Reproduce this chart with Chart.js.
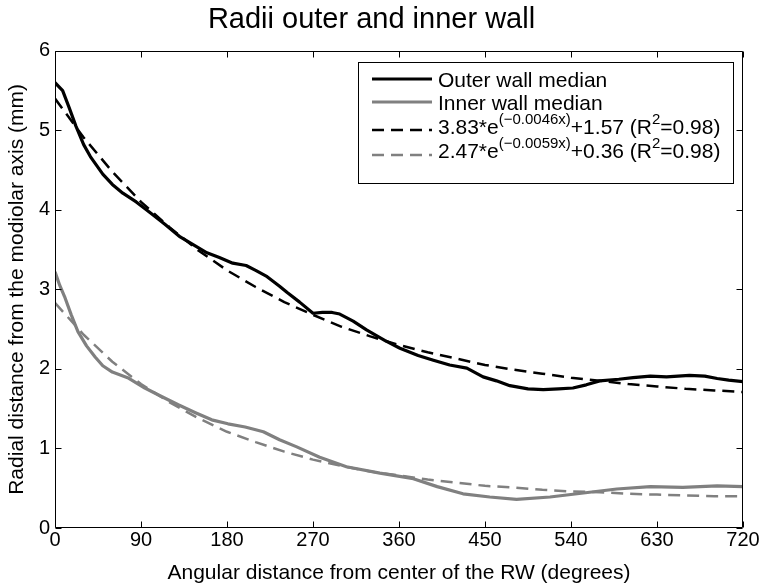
<!DOCTYPE html>
<html><head><meta charset="utf-8">
<script src="https://cdn.jsdelivr.net/npm/chart.js@4/dist/chart.umd.min.js"></script>
<style>html,body{margin:0;padding:0;background:#fff}#wrap{width:764px;height:587px}</style>
</head><body><div id="wrap"><canvas id="c" width="764" height="587"></canvas></div>
<script>
const titleText = 'Radii outer and inner wall';
const xAxisLabel = 'Angular distance from center of the RW (degrees)';
const yAxisLabel = 'Radial distance from the modiolar axis (mm)';
const xTicks = [0, 90, 180, 270, 360, 450, 540, 630, 720];
const yTicks = [0, 1, 2, 3, 4, 5, 6];

const outerX = [0,8,15,22,30,37,50,60,71,85,99,115,131,145,159,172,186,200,210,222,235,243,256,270,280,290,298,312,326,345,361,380,396,413,431,448,462,476,495,511,527,542,556,570,590,605,623,640,664,680,693,705,720];
const outerY = [5.60,5.50,5.28,5.05,4.82,4.67,4.45,4.32,4.21,4.10,3.97,3.82,3.66,3.56,3.46,3.40,3.33,3.30,3.24,3.16,3.04,2.96,2.84,2.70,2.71,2.71,2.69,2.60,2.49,2.36,2.26,2.17,2.11,2.05,2.01,1.90,1.85,1.79,1.75,1.74,1.75,1.76,1.80,1.85,1.87,1.89,1.91,1.90,1.92,1.91,1.88,1.86,1.84];

const innerX = [0,5,10,17,24,33,42,50,60,76,94,112,129,147,164,181,199,218,235,253,277,305,340,375,400,427,455,483,518,553,588,623,657,693,720];
const innerY = [3.22,3.05,2.91,2.68,2.47,2.29,2.15,2.04,1.96,1.89,1.76,1.65,1.55,1.45,1.36,1.31,1.27,1.21,1.11,1.02,0.89,0.77,0.69,0.62,0.52,0.43,0.39,0.36,0.39,0.44,0.49,0.52,0.51,0.53,0.52];

const fitX = [0,30,60,90,120,150,180,210,240,270,300,330,360,390,420,450,480,510,540,570,600,630,660,690,720];
const outerFitY = [5.40,4.91,4.48,4.10,3.78,3.49,3.24,3.03,2.84,2.68,2.53,2.41,2.30,2.21,2.13,2.05,1.99,1.94,1.89,1.85,1.81,1.78,1.75,1.73,1.71];
const innerFitY = [2.83,2.43,2.09,1.81,1.58,1.38,1.21,1.08,0.96,0.86,0.78,0.71,0.66,0.61,0.57,0.53,0.51,0.48,0.46,0.45,0.43,0.42,0.41,0.40,0.40];

const seriesNames = ['Outer wall median', 'Inner wall median'];
const fitLabelParts = [
  [['3.83*e', false], ['(\u22120.0046x)', true], ['+1.57 (R', false], ['2', true], ['=0.98)', false]],
  [['2.47*e', false], ['(\u22120.0059x)', true], ['+0.36 (R', false], ['2', true], ['=0.98)', false]]
];

const FONT = "'Liberation Sans', Arial, Helvetica, sans-serif";
const BLACK = '#000000';
const GRAY = '#808080';

function pts(xs, ys) { return xs.map((x, i) => ({ x: x, y: ys[i] })); }

const styles = [
  { color: BLACK, width: 3.2, dash: [] },
  { color: GRAY, width: 3.2, dash: [] },
  { color: BLACK, width: 2.5, dash: [12, 7] },
  { color: GRAY, width: 2.5, dash: [12, 7] }
];

const framePlugin = {
  id: 'frame',
  afterDatasetsDraw(chart) {
    const ctx = chart.ctx;
    const a = chart.chartArea;
    const xs = chart.scales.x, ys = chart.scales.y;
    ctx.save();
    ctx.strokeStyle = '#000';
    ctx.lineWidth = 1;
    ctx.setLineDash([]);
    const L = Math.round(a.left) + 0.5, R = Math.round(a.right) - 0.5;
    const T = Math.round(a.top) + 0.5, B = Math.round(a.bottom) - 0.5;
    ctx.beginPath();
    ctx.rect(L, T, R - L, B - T);
    const tl = 6;
    xTicks.forEach(v => {
      const p = Math.round(xs.getPixelForValue(v)) + 0.5;
      ctx.moveTo(p, B); ctx.lineTo(p, B - tl);
      ctx.moveTo(p, T); ctx.lineTo(p, T + tl);
    });
    yTicks.forEach(v => {
      const p = Math.round(ys.getPixelForValue(v)) + 0.5;
      ctx.moveTo(L, p); ctx.lineTo(L + tl, p);
      ctx.moveTo(R, p); ctx.lineTo(R - tl, p);
    });
    ctx.stroke();

    // legend box
    const bx = 358.5, by = 62.5, bw = 375, bh = 121;
    ctx.fillStyle = '#fff';
    ctx.fillRect(bx, by, bw, bh);
    ctx.strokeRect(bx, by, bw, bh);
    const lineY = [79, 102, 130, 155];
    const baseY = [87, 110, 134, 158];
    const x0 = 372, x1 = 432, tx = 438;
    for (let i = 0; i < 4; i++) {
      const s = styles[i];
      ctx.beginPath();
      ctx.strokeStyle = s.color;
      ctx.lineWidth = s.width;
      ctx.setLineDash(s.dash);
      ctx.moveTo(x0, lineY[i]);
      ctx.lineTo(x1, lineY[i]);
      ctx.stroke();
    }
    ctx.setLineDash([]);
    ctx.fillStyle = '#000';
    ctx.textBaseline = 'alphabetic';
    ctx.textAlign = 'left';
    ctx.font = '21px ' + FONT;
    ctx.fillText(seriesNames[0], tx, baseY[0]);
    ctx.fillText(seriesNames[1], tx, baseY[1]);
    for (let k = 0; k < 2; k++) {
      let x = tx;
      fitLabelParts[k].forEach(([txt, sup]) => {
        ctx.font = (sup ? '15px ' : '21px ') + FONT;
        const y = sup ? baseY[2 + k] - 10 : baseY[2 + k];
        ctx.fillText(txt, x, y);
        x += ctx.measureText(txt).width;
      });
    }
    ctx.restore();
  }
};

new Chart(document.getElementById('c'), {
  type: 'scatter',
  data: {
    datasets: [
      { label: seriesNames[0], data: pts(outerX, outerY) },
      { label: seriesNames[1], data: pts(innerX, innerY) },
      { label: 'fit outer', data: pts(fitX, outerFitY) },
      { label: 'fit inner', data: pts(fitX, innerFitY) }
    ].map((d, i) => Object.assign(d, {
      showLine: true, pointRadius: 0, pointHoverRadius: 0, fill: false, tension: 0,
      borderColor: styles[i].color, backgroundColor: styles[i].color,
      borderWidth: styles[i].width, borderDash: styles[i].dash,
      borderCapStyle: 'butt', borderJoinStyle: 'round'
    }))
  },
  options: {
    responsive: false,
    devicePixelRatio: 1,
    animation: false,
    layout: { padding: { left: 0, right: 21, top: 0, bottom: 0 } },
    plugins: {
      legend: { display: false },
      tooltip: { enabled: false },
      title: {
        display: true, text: titleText, color: '#000',
        font: { family: FONT, size: 29, weight: 'normal', lineHeight: 1.2 },
        padding: { top: 3, bottom: 13 }
      }
    },
    scales: {
      x: {
        type: 'linear', min: 0, max: 720,
        afterBuildTicks: s => { s.ticks = xTicks.map(v => ({ value: v })); },
        afterFit: s => { s.height = 59; },
        grid: { display: false, drawTicks: false },
        border: { display: false },
        ticks: { color: '#000', padding: 2, maxRotation: 0, autoSkip: false, font: { family: FONT, size: 20, lineHeight: 1.0 } },
        title: { display: true, text: xAxisLabel, color: '#000', font: { family: FONT, size: 21, lineHeight: 1.2 }, padding: { top: 0, bottom: 1 } }
      },
      y: {
        type: 'linear', min: 0, max: 6,
        afterBuildTicks: s => { s.ticks = yTicks.map(v => ({ value: v })); },
        afterFit: s => { s.width = 55; },
        grid: { display: false, drawTicks: false },
        border: { display: false },
        ticks: { color: '#000', padding: 5, font: { family: FONT, size: 20 } },
        title: { display: true, text: yAxisLabel, color: '#000', font: { family: FONT, size: 21, lineHeight: 1.2 }, padding: { top: 5, bottom: 0 } }
      }
    }
  },
  plugins: [framePlugin]
});
</script>
</body></html>
